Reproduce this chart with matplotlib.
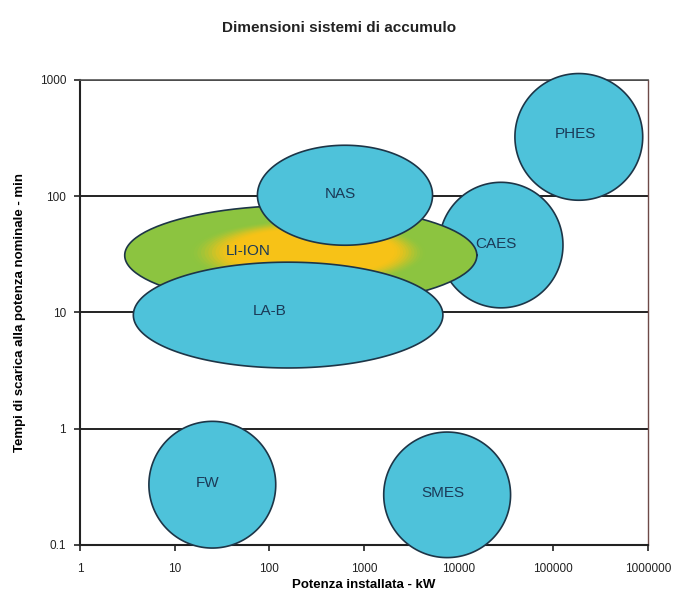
import numpy as np
import matplotlib.pyplot as plt
from matplotlib.ticker import FixedLocator, FixedFormatter, NullLocator

plt.rcParams['font.family'] = ['Liberation Sans', 'DejaVu Sans']

# technologies: centre (kW, min) and size in decades (log10 width, log10 height)
names = ['CAES', 'LI-ION', 'NAS', 'LA-B', 'PHES', 'FW', 'SMES']
power_kw = [28000, 215, 630, 158, 186000, 25, 7560]
time_min = [38, 31, 102, 9.5, 324, 0.33, 0.27]
width_dec = [1.31, 3.72, 1.85, 3.27, 1.35, 1.34, 1.34]
height_dec = [1.08, 0.86, 0.86, 0.91, 1.09, 1.09, 1.08]
label_kw = [25000, 60, 560, 100, 170000, 22, 6800]
label_min = [39, 34, 104, 10.2, 340, 0.34, 0.28]

xticks = [1, 10, 100, 1000, 10000, 100000, 1000000]
xticklabels = ['1', '10', '100', '1000', '10000', '100000', '1000000']
yticks = [0.1, 1, 10, 100, 1000]
yticklabels = ['0.1', '1', '10', '100', '1000']

BLUE = '#4ec2da'
EDGE = '#1d3547'
GREEN = np.array([0.55, 0.77, 0.25])
YELLOW = np.array([0.97, 0.76, 0.09])


def ellipse_pts(cx, cy, w, h, n=200):
    t = np.linspace(0, 2 * np.pi, n)
    lx = np.log10(cx) + w / 2 * np.cos(t)
    ly = np.log10(cy) + h / 2 * np.sin(t)
    return 10 ** lx, 10 ** ly


fig = plt.figure(figsize=(6.79, 6.06), dpi=100)
ax = fig.add_axes([0.1178, 0.1007, 0.8365, 0.7673])
ax.set_xscale('log')
ax.set_yscale('log')
ax.set_xlim(1, 1000000)
ax.set_ylim(0.1, 1000)

for yv in yticks[1:]:
    ax.axhline(yv, color='#222222', lw=1.4, zorder=1)

for i, name in enumerate(names):
    cx, cy, w, h = power_kw[i], time_min[i], width_dec[i], height_dec[i]
    z = 2 + i
    if name == 'LI-ION':
        # green body, yellow core between NAS and LA-B
        gx, gy = np.log10(345), np.log10(35)
        for t in np.linspace(0, 1, 50):
            s = 1 - 0.9 * t
            ccx = 10 ** (np.log10(cx) + t * (gx - np.log10(cx)))
            ccy = 10 ** (np.log10(cy) + t * (gy - np.log10(cy)))
            k = np.clip((0.68 - s) / 0.22, 0, 1)
            k = k * k * (3 - 2 * k)
            c = GREEN + k * (YELLOW - GREEN)
            xs, ys = ellipse_pts(ccx, ccy, w * s, h * s)
            ax.fill(xs, ys, color=c, lw=0, zorder=z, clip_on=False)
        xs, ys = ellipse_pts(cx, cy, w, h)
        ax.plot(xs, ys, color=EDGE, lw=1.2, zorder=z, clip_on=False)
    else:
        xs, ys = ellipse_pts(cx, cy, w, h)
        ax.fill(xs, ys, facecolor=BLUE, edgecolor=EDGE, lw=1.2, zorder=z, clip_on=False)

for i, name in enumerate(names):
    ax.text(label_kw[i], label_min[i], name, ha='center', va='center',
            fontsize=11, color='#1b3a57', zorder=20)

ax.xaxis.set_major_locator(FixedLocator(xticks))
ax.xaxis.set_major_formatter(FixedFormatter(xticklabels))
ax.yaxis.set_major_locator(FixedLocator(yticks))
ax.yaxis.set_major_formatter(FixedFormatter(yticklabels))
ax.xaxis.set_minor_locator(NullLocator())
ax.yaxis.set_minor_locator(NullLocator())
ax.tick_params(axis='both', labelsize=8.5, colors='#222222', length=4, width=1.2, pad=6)
ax.tick_params(axis='x', pad=9)

for side in ['left', 'bottom']:
    ax.spines[side].set_color('#222222')
    ax.spines[side].set_linewidth(1.5)
ax.spines['top'].set_color('#555555')
ax.spines['top'].set_linewidth(1.2)
ax.spines['right'].set_color('#6e4a48')
ax.spines['right'].set_linewidth(1.0)

ax.set_xlabel('Potenza installata - kW', fontsize=9.5, fontweight='bold', labelpad=3)
ax.set_ylabel('Tempi di scarica alla potenza nominale - min', fontsize=9.5,
              fontweight='bold', labelpad=10)
fig.text(0.5, 0.953, 'Dimensioni sistemi di accumulo', ha='center', va='center',
         fontsize=11, fontweight='bold', color='#222222')

fig.savefig('out.png', dpi=100)
